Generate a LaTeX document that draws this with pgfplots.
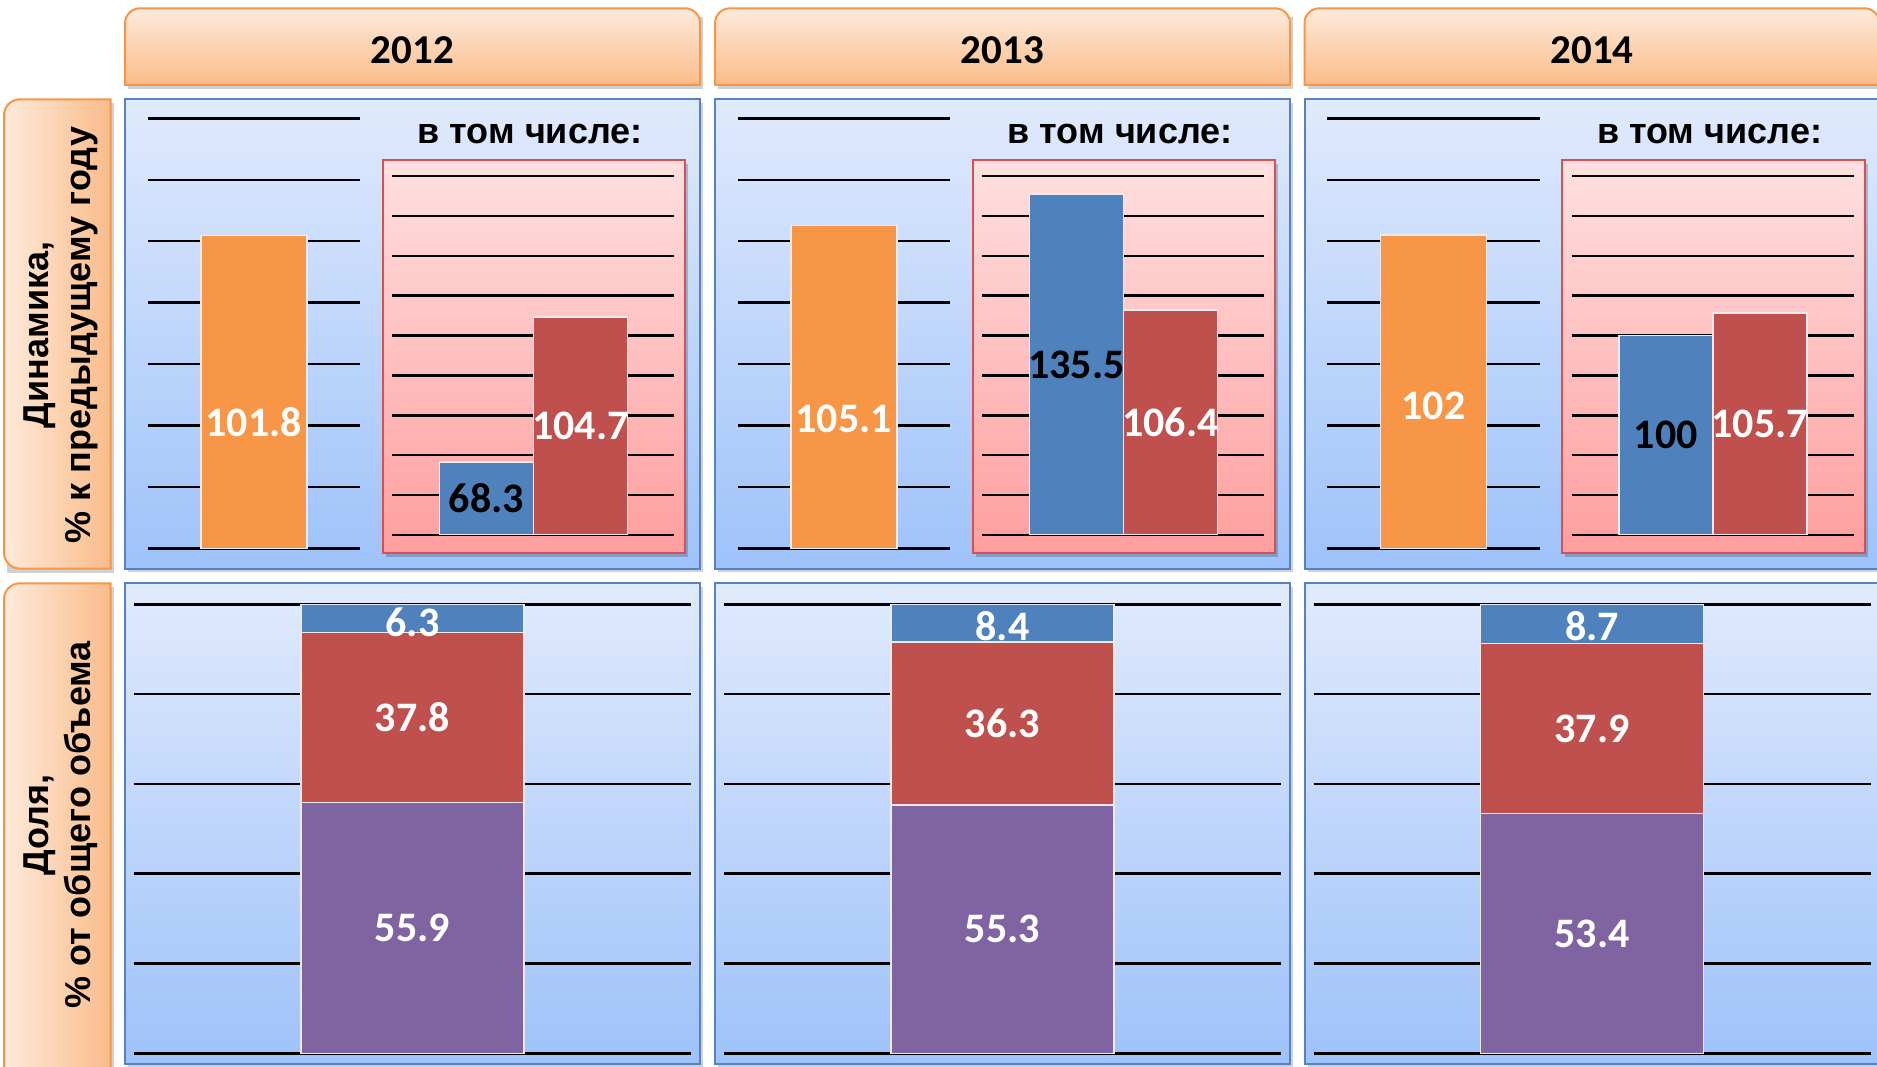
\documentclass[border=0pt]{standalone}
\usepackage{fontspec}
\setmainfont{Liberation Sans}
\newfontfamily\numfont{Carlito}
\usepackage{pgfplots}
\pgfplotsset{compat=1.18}

\definecolor{cOrange}{HTML}{F79646}
\definecolor{cBlue}{HTML}{4F81BD}
\definecolor{cRed}{HTML}{C0504D}
\definecolor{cPurple}{HTML}{8064A2}
\definecolor{hTop}{RGB}{253,234,219}
\definecolor{hBot}{RGB}{250,188,138}
\definecolor{hBorder}{RGB}{247,150,70}
\definecolor{pTop}{RGB}{224,234,252}
\definecolor{pBot}{RGB}{158,194,250}
\definecolor{pBorder}{RGB}{84,130,196}
\definecolor{rTop}{RGB}{255,224,224}
\definecolor{rBot}{RGB}{255,158,158}
\definecolor{rBorder}{RGB}{214,82,82}
\definecolor{barEdge}{RGB}{235,235,235}

\newcommand\numlab{\numfont\bfseries\fontsize{42}{50}\selectfont}
\newcommand\yearfont{\numfont\bfseries\fontsize{41}{49}\selectfont}
\newcommand\labfont{\bfseries\fontsize{36}{42}\selectfont}

\tikzset{
  lblW/.style={font=\numlab, text=white, inner sep=0pt},
  lblK/.style={font=\numlab, text=black, inner sep=0pt},
}
\pgfplotsset{
  panel/.style={scale only axis, anchor=south west,
    axis line style={draw=none}, xtick=\empty, ymajorgrids,
    major tick length=0pt, yticklabel=\empty, xticklabel=\empty,
    grid style={black, line width=2.5pt}, clip mode=individual},
  dynA/.style={panel, width=212.3pt, height=429.9pt,
    xmin=-1, xmax=1, ymin=0, ymax=140, ytick={0,20,...,140}},
  dynB/.style={panel, width=282pt, height=359pt,
    xmin=-1.5, xmax=1.5, ymin=50, ymax=140, ytick={50,60,...,140}},
  geomC/.style={scale only axis, anchor=south west, width=557pt, height=449pt,
    xmin=-1.25, xmax=1.25, ymin=0, ymax=100},
  shareC/.style={panel, geomC, ytick={0,20,...,100},
    ybar stacked, bar width=222.7pt},
  overC/.style={geomC, hide axis, clip=false},
  barA/.style={ybar, bar shift=0pt, bar width=106pt, fill=cOrange, draw=barEdge, line width=1.5pt},
  barB/.style={ybar, bar shift=0pt, bar width=94pt, draw=barEdge, line width=1.5pt},
  segC/.style={draw=barEdge, line width=1.5pt},
}

\begin{document}
\begin{tikzpicture}[x=1pt,y=1pt]
\useasboundingbox (0,0) rectangle (1877,1067);
\clip (0,0) rectangle (1877,1067);
\fill[white] (0,0) rectangle (1877,1067);

% left label boxes
\fill[black,opacity=0.18] (113.5,494) rectangle (7,964);
\path[draw=hBorder, line width=2pt, left color=hTop, right color=hBot]
  (110.7,498.4) [rounded corners=16pt] -- (4,498.4) -- (4,967.7) [sharp corners] -- (110.7,967.7) -- cycle;
\node[font=\labfont, align=center, rotate=90] at (61,732) {Динамика,\\\% к предыдущему году};

\fill[black,opacity=0.18] (113.5,-30) rectangle (7,480);
\path[draw=hBorder, line width=2pt, left color=hTop, right color=hBot]
  (110.7,-30) [rounded corners=16pt] -- (4,-30) -- (4,483.7) [sharp corners] -- (110.7,483.7) -- cycle;
\node[font=\labfont, align=center, rotate=90] at (61,242) {Доля,\\\% от общего объема};

\foreach \dx/\yr in {0/2012,590/2013,1179.5/2014}{
  % header
  \fill[black,opacity=0.18] ({128+\dx},978) rectangle ({703+\dx},1050);
  \path[draw=hBorder, line width=2pt, top color=hTop, bottom color=hBot]
    ({125+\dx},982) [rounded corners=15pt] -- ({125+\dx},1058.7) -- ({700+\dx},1058.7) [sharp corners] -- ({700+\dx},982) -- cycle;
  \node[font=\yearfont, anchor=base] at ({412.5+\dx},1003) {\yr};
  % top panel
  \fill[black,opacity=0.18] ({128+\dx},494.5) rectangle ({703+\dx},964);
  \shade[top color=pTop, bottom color=pBot] ({125+\dx},498.4) rectangle ({700+\dx},967.7);
  \draw[pBorder, line width=2pt] ({125+\dx},498.4) rectangle ({700+\dx},967.7);
  % pink sub panel
  \fill[black,opacity=0.2] ({385.5+\dx},510) rectangle ({688+\dx},903);
  \shade[top color=rTop, bottom color=rBot] ({382.5+\dx},514) rectangle ({685+\dx},907);
  \draw[rBorder, line width=2pt] ({382.5+\dx},514) rectangle ({685+\dx},907);
  \node[font=\labfont, anchor=base] at ({530+\dx},923.7) {в том числе:};
  % bottom panel
  \fill[black,opacity=0.18] ({128+\dx},-5) rectangle ({703+\dx},480);
  \shade[top color=pTop, bottom color=pBot] ({125+\dx},3) rectangle ({700+\dx},483.7);
  \draw[pBorder, line width=2pt] ({125+\dx},3) rectangle ({700+\dx},483.7);
}

% ===== 2012 =====
\begin{axis}[dynA, at={(147.7pt,518.7pt)}]
\addplot[barA] coordinates {(0,101.8)};
\node[lblW] at (axis cs:0,41) {101.8};
\end{axis}
\begin{axis}[dynB, at={(392.3pt,532pt)}]
\addplot[barB, fill=cBlue] coordinates {(-0.5,68.3)};
\addplot[barB, fill=cRed] coordinates {(0.5,104.7)};
\node[lblK] at (axis cs:-0.5,59.15) {68.3};
\node[lblW] at (axis cs:0.5,77.35) {104.7};
\end{axis}
\begin{axis}[shareC, at={(134pt,13.7pt)}]
\addplot[segC, fill=cPurple] coordinates {(0,55.9)};
\addplot[segC, fill=cRed] coordinates {(0,37.8)};
\addplot[segC, fill=cBlue] coordinates {(0,6.3)};
\end{axis}
\begin{axis}[overC, at={(134pt,13.7pt)}]
\addplot[draw=none] coordinates {(0,0)};
\node[lblW] at (axis cs:0,27.95) {55.9};
\node[lblW] at (axis cs:0,74.8) {37.8};
\node[lblW] at (axis cs:0,96.0) {6.3};
\end{axis}

% ===== 2013 =====
\begin{axis}[dynA, at={(737.7pt,518.7pt)}]
\addplot[barA] coordinates {(0,105.1)};
\node[lblW] at (axis cs:0,42) {105.1};
\end{axis}
\begin{axis}[dynB, at={(982.3pt,532pt)}]
\addplot[barB, fill=cBlue] coordinates {(-0.5,135.5)};
\addplot[barB, fill=cRed] coordinates {(0.5,106.4)};
\node[lblK] at (axis cs:-0.5,92.75) {135.5};
\node[lblW] at (axis cs:0.5,78.2) {106.4};
\end{axis}
\begin{axis}[shareC, at={(724pt,13.7pt)}]
\addplot[segC, fill=cPurple] coordinates {(0,55.3)};
\addplot[segC, fill=cRed] coordinates {(0,36.3)};
\addplot[segC, fill=cBlue] coordinates {(0,8.4)};
\end{axis}
\begin{axis}[overC, at={(724pt,13.7pt)}]
\addplot[draw=none] coordinates {(0,0)};
\node[lblW] at (axis cs:0,27.65) {55.3};
\node[lblW] at (axis cs:0,73.45) {36.3};
\node[lblW] at (axis cs:0,95.2) {8.4};
\end{axis}

% ===== 2014 =====
\begin{axis}[dynA, at={(1327.2pt,518.7pt)}]
\addplot[barA] coordinates {(0,102)};
\node[lblW] at (axis cs:0,46.3) {102};
\end{axis}
\begin{axis}[dynB, at={(1571.8pt,532pt)}]
\addplot[barB, fill=cBlue] coordinates {(-0.5,100)};
\addplot[barB, fill=cRed] coordinates {(0.5,105.7)};
\node[lblK] at (axis cs:-0.5,75) {100};
\node[lblW] at (axis cs:0.5,77.85) {105.7};
\end{axis}
\begin{axis}[shareC, at={(1313.5pt,13.7pt)}]
\addplot[segC, fill=cPurple] coordinates {(0,53.4)};
\addplot[segC, fill=cRed] coordinates {(0,37.9)};
\addplot[segC, fill=cBlue] coordinates {(0,8.7)};
\end{axis}
\begin{axis}[overC, at={(1313.5pt,13.7pt)}]
\addplot[draw=none] coordinates {(0,0)};
\node[lblW] at (axis cs:0,26.7) {53.4};
\node[lblW] at (axis cs:0,72.35) {37.9};
\node[lblW] at (axis cs:0,95.1) {8.7};
\end{axis}
\end{tikzpicture}
\end{document}
